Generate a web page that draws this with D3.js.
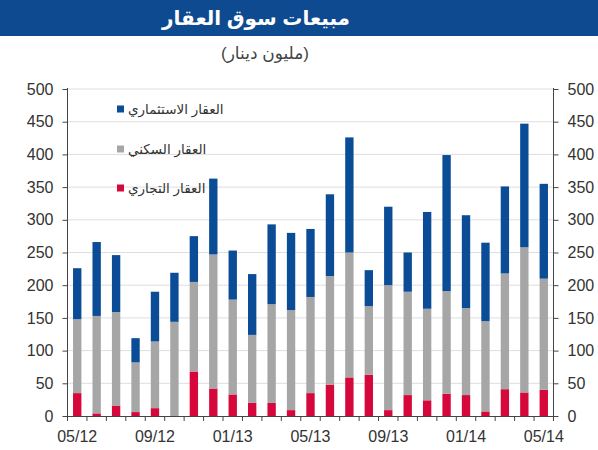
<!DOCTYPE html>
<html><head><meta charset="utf-8">
<script src="https://cdn.jsdelivr.net/npm/d3@7"></script>
<style>
html,body{margin:0;padding:0;background:#fff;}
svg{display:block;font-family:"Liberation Sans","DejaVu Sans",Arial,sans-serif;}
</style></head>
<body><svg id="c" width="598" height="450"></svg>
<script>
const months = ["05/12","06/12","07/12","08/12","09/12","10/12","11/12","12/12","01/13","02/13","03/13","04/13","05/13","06/13","07/13","08/13","09/13","10/13","11/13","12/13","01/14","02/14","03/14","04/14","05/14"];
const tickLabels = ["05/12","09/12","01/13","05/13","09/13","01/14","05/14"];
const commercial  = [35,4,16,6,12,0,68,42,33,20,20,9,35,48,59,63,9,32,24,34,32,7,41,36,40];
const residential = [113,149,143,76,102,144,137,205,145,104,151,153,147,166,191,105,191,158,140,157,133,138,177,222,170];
const investment  = [78,113,87,37,76,75,70,116,75,93,122,118,104,125,176,55,120,60,148,208,142,120,133,189,145];
const yTicks = [0,50,100,150,200,250,300,350,400,450,500];
const seriesNames = ["العقار التجاري","العقار السكني","العقار الاستثماري"];
const colors = ["#d6083b","#a6a6a6","#0b4c96"];
const title = "مبيعات سوق العقار";
const subtitle = "(مليون دينار)";

const svg = d3.select("#c");
const L = 67.5, R = 553.5, T = 89, B = 416;

// title bar
svg.append("rect").attr("x",0).attr("y",0).attr("width",598).attr("height",36).attr("fill","#0d4a90");
svg.append("text").attr("x",256).attr("y",25).attr("text-anchor","middle")
  .attr("fill","#fff").attr("font-weight","bold").attr("font-size",20).text(title);
svg.append("text").attr("x",265).attr("y",59).attr("text-anchor","middle")
  .attr("fill","#444").attr("font-size",17).text(subtitle);

const x = d3.scaleBand().domain(months).range([L,R]).paddingInner(0.57).paddingOuter(0.285);
const y = d3.scaleLinear().domain([0,500]).range([B,T]);

// gridlines
svg.append("g").selectAll("line").data(yTicks.filter(d=>d>0)).join("line")
  .attr("x1",L).attr("x2",R).attr("y1",d=>y(d)).attr("y2",d=>y(d))
  .attr("stroke","#dedede").attr("stroke-width",1);

// stacked bars
const rows = months.map((m,i)=>({m, c:commercial[i], r:residential[i], v:investment[i]}));
const stack = d3.stack().keys(["c","r","v"])(rows);
svg.append("g").selectAll("g").data(stack).join("g").attr("fill",(d,i)=>colors[i])
  .selectAll("rect").data(d=>d).join("rect")
  .attr("x",d=>x(d.data.m)).attr("width",x.bandwidth())
  .attr("y",d=>y(d[1])).attr("height",d=>y(d[0])-y(d[1]));

// axes
const axisColor = "#444";
const left = svg.append("g").attr("transform",`translate(${L},0)`)
  .call(d3.axisLeft(y).tickValues(yTicks).tickSize(5).tickPadding(9));
const right = svg.append("g").attr("transform",`translate(${R},0)`)
  .call(d3.axisRight(y).tickValues(yTicks).tickSize(5).tickPadding(9));
[left,right].forEach(g=>{
  g.select(".domain").attr("stroke",axisColor).attr("d", `M0,${T-1}V${B}`);
  g.selectAll(".tick line").attr("stroke",axisColor);
  g.selectAll(".tick text").attr("fill","#333").attr("font-size",16).attr("font-family","Liberation Sans, Arial, sans-serif");
});

// bottom axis
const step = x.step();
const boundaries = months.map(m=>x(m) - step*x.paddingInner()/2).concat([R]);
const bx = svg.append("g");
bx.append("line").attr("x1",L).attr("x2",R).attr("y1",B+0.5).attr("y2",B+0.5).attr("stroke",axisColor);
bx.selectAll("line.t").data(boundaries).join("line").attr("class","t")
  .attr("x1",d=>d).attr("x2",d=>d).attr("y1",B).attr("y2",B+5).attr("stroke",axisColor);
bx.selectAll("text").data(tickLabels).join("text")
  .attr("x",d=>x(d)+x.bandwidth()/2).attr("y",B+26).attr("text-anchor","middle")
  .attr("fill","#333").attr("font-size",16).text(d=>d);

// legend
const legY = [188,149,109];
const lg = svg.append("g");
seriesNames.forEach((n,i)=>{
  lg.append("rect").attr("x",117).attr("y",legY[i]-3.5).attr("width",7).attr("height",7).attr("fill",colors[i]);
  lg.append("text").attr("x",128).attr("y",legY[i]+5).attr("font-size",13.5).attr("fill","#333").text(n);
});
</script></body></html>
